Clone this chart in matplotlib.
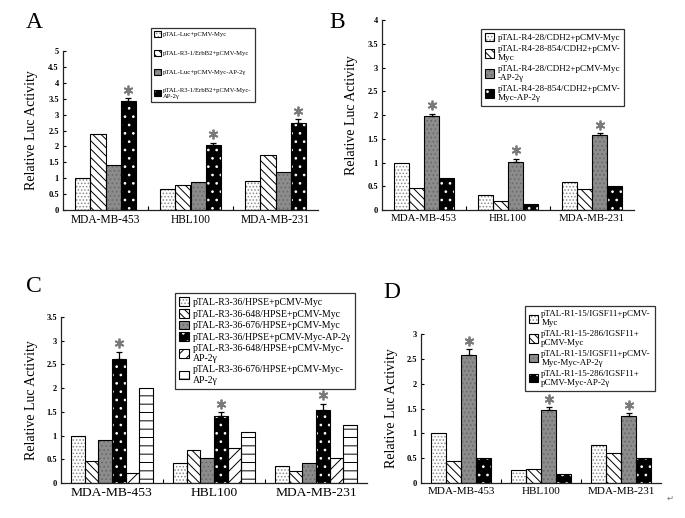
import matplotlib
matplotlib.use("Agg")
import matplotlib.pyplot as plt
import numpy as np
from matplotlib.patches import Patch
from matplotlib.legend_handler import HandlerTuple
from matplotlib.transforms import ScaledTranslation

plt.rcParams['font.family'] = ['Liberation Serif', 'DejaVu Serif']
plt.rcParams['hatch.linewidth'] = 0.7

categories = ["MDA-MB-453", "HBL100", "MDA-MB-231"]

# Panel A
a_labels = ["pTAL-Luc+pCMV-Myc", "pTAL-R3-1/ErbB2+pCMV-Myc",
            "pTAL-Luc+pCMV-Myc-AP-2γ", "pTAL-R3-1/ErbB2+pCMV-Myc-\nAP-2γ"]
a_values = [[1.00, 0.65, 0.90],
            [2.40, 0.80, 1.72],
            [1.40, 0.87, 1.20],
            [3.42, 2.05, 2.75]]
a_err = [[0, 0, 0], [0, 0, 0], [0, 0, 0], [0.10, 0.07, 0.10]]

# Panel B
b_labels = ["pTAL-R4-28/CDH2+pCMV-Myc", "pTAL-R4-28-854/CDH2+pCMV-\nMyc",
            "pTAL-R4-28/CDH2+pCMV-Myc\n-AP-2γ", "pTAL-R4-28-854/CDH2+pCMV-\nMyc-AP-2γ"]
b_values = [[1.00, 0.32, 0.60],
            [0.46, 0.20, 0.44],
            [1.98, 1.02, 1.58],
            [0.67, 0.12, 0.50]]
b_err = [[0, 0, 0], [0, 0, 0], [0.05, 0.06, 0.04], [0, 0, 0]]

# Panel C
c_labels = ["pTAL-R3-36/HPSE+pCMV-Myc", "pTAL-R3-36-648/HPSE+pCMV-Myc",
            "pTAL-R3-36-676/HPSE+pCMV-Myc", "pTAL-R3-36/HPSE+pCMV-Myc-AP-2γ",
            "pTAL-R3-36-648/HPSE+pCMV-Myc-\nAP-2γ", "pTAL-R3-36-676/HPSE+pCMV-Myc-\nAP-2γ"]
c_values = [[1.00, 0.42, 0.36],
            [0.46, 0.70, 0.25],
            [0.91, 0.53, 0.42],
            [2.62, 1.42, 1.54],
            [0.22, 0.73, 0.52],
            [2.01, 1.08, 1.22]]
c_err = [[0, 0, 0], [0, 0, 0], [0, 0, 0], [0.15, 0.08, 0.13], [0, 0, 0], [0, 0, 0]]

# Panel D
d_labels = ["pTAL-R1-15/IGSF11+pCMV-\nMyc", "pTAL-R1-15-286/IGSF11+\npCMV-Myc",
            "pTAL-R1-15/IGSF11+pCMV-\nMyc-Myc-AP-2γ", "pTAL-R1-15-286/IGSF11+\npCMV-Myc-AP-2γ"]
d_values = [[1.00, 0.26, 0.76],
            [0.45, 0.28, 0.60],
            [2.58, 1.46, 1.34],
            [0.50, 0.18, 0.50]]
d_err = [[0, 0, 0], [0, 0, 0], [0.12, 0.07, 0.07], [0, 0, 0]]

STYLES = {
    'dots':  dict(face='white', hatch='.....', hcol='#8a8a8a'),
    'diag':  dict(face='white', hatch='\\\\\\\\', hcol='black'),
    'gray':  dict(face='#8c8c8c', hatch='....', hcol='#6a6a6a'),
    'black': dict(face='black', hatch='..', hcol='white'),
    'slash': dict(face='white', hatch='///', hcol='black'),
    'hdash': dict(face='white', hatch='--', hcol='black'),
}

fig = plt.figure(figsize=(6.85, 5.18), dpi=100)


def panel(rect, letter, letter_xy, values, errs, labels, styles, ylim, ystep,
          width, leg_xy, leg_fs, leg_sp, cat_fs, ylab_x):
    ax = fig.add_axes(rect)
    n = len(values)
    x = np.arange(len(categories))
    handles = []
    for i in range(n):
        st = STYLES[styles[i]]
        pos = x + (i - (n - 1) / 2) * width
        ax.bar(pos, values[i], width, color=st['face'], hatch=st['hatch'],
               edgecolor=st['hcol'], linewidth=0, zorder=2)
        ax.bar(pos, values[i], width, fill=False, edgecolor='black',
               linewidth=0.8, zorder=3)
        for j in range(len(categories)):
            if errs[i][j] > 0:
                top = values[i][j] + errs[i][j]
                ax.errorbar(pos[j], values[i][j], yerr=[[0], [errs[i][j]]],
                            fmt='none', ecolor='black', elinewidth=0.9,
                            capsize=2.2, capthick=0.9, zorder=4)
                off = ScaledTranslation(0, 6 / 72, fig.dpi_scale_trans)
                ax.plot([pos[j]], [top], linestyle='none', marker=(6, 2, 0),
                        markersize=7, markeredgewidth=1.3, color='#7a7a7a',
                        transform=ax.transData + off, zorder=5, clip_on=False)
        h1 = Patch(facecolor=st['face'], hatch=st['hatch'], edgecolor=st['hcol'], linewidth=0)
        h2 = Patch(fill=False, edgecolor='black', linewidth=0.8)
        handles.append((h1, h2))
    ax.set_xlim(-0.5, len(categories) - 0.5)
    ax.set_ylim(*ylim)
    yt = np.arange(0, ylim[1] + 1e-9, ystep)
    ax.set_yticks(yt)
    ax.set_yticklabels([('%g' % v) for v in yt], fontsize=6, fontweight='bold')
    ax.set_xticks(x)
    ax.set_xticklabels(categories, fontsize=cat_fs)
    ax.set_xticks([0.5, 1.5], minor=True)
    ax.tick_params(axis='x', which='major', length=0, pad=3)
    ax.tick_params(axis='x', which='minor', direction='in', length=3, width=0.8)
    ax.tick_params(axis='y', direction='in', length=2.5, width=0.8, pad=3)
    for s in ['top', 'right']:
        ax.spines[s].set_visible(False)
    for s in ['left', 'bottom']:
        ax.spines[s].set_linewidth(0.9)
        ax.spines[s].set_color('#222222')
    fig.text(ylab_x, rect[1] + rect[3] * 0.5, "Relative Luc Activity", rotation=90,
             fontsize=10, ha='center', va='center')
    fig.text(letter_xy[0], letter_xy[1], letter, fontsize=17, ha='center', va='center')
    leg = fig.legend(handles, labels, loc='upper left', bbox_to_anchor=leg_xy,
                     bbox_transform=fig.transFigure, fontsize=leg_fs,
                     handler_map={tuple: HandlerTuple(ndivide=1, pad=0)},
                     frameon=True, fancybox=False, edgecolor='black',
                     borderpad=0.45, labelspacing=leg_sp, handlelength=1.0,
                     handleheight=1.0, handletextpad=0.35, borderaxespad=0)
    leg.get_frame().set_linewidth(0.9)
    return ax


W, H = 685.0, 518.0

def rect(l, r, y0, ytop):
    return [l / W, 1 - y0 / H, (r - l) / W, (y0 - ytop) / H]

panel(rect(63, 318, 210, 51), "A", (34 / W, 1 - 23 / H), a_values, a_err, a_labels,
      ['dots', 'diag', 'gray', 'black'], (0, 5), 0.5, 0.18,
      (151 / W, 1 - 28 / H), 4.8, 1.9, 8.3, 32 / W)
panel(rect(382, 634, 210, 20), "B", (337 / W, 1 - 22 / H), b_values, b_err, b_labels,
      ['dots', 'diag', 'gray', 'black'], (0, 4), 0.5, 0.18,
      (481 / W, 1 - 29 / H), 6.6, 0.3, 7.8, 352 / W)
panel(rect(61, 367, 483, 317), "C", (34 / W, 1 - 287 / H), c_values, c_err, c_labels,
      ['dots', 'diag', 'gray', 'black', 'slash', 'hdash'], (0, 3.5), 0.5, 0.134,
      (175 / W, 1 - 293 / H), 7.0, 0.2, 9.7, 32 / W)
panel(rect(421, 661, 483, 334), "D", (392 / W, 1 - 293 / H), d_values, d_err, d_labels,
      ['dots', 'diag', 'gray', 'black'], (0, 3), 0.5, 0.19,
      (525 / W, 1 - 306 / H), 6.5, 0.3, 8.0, 392 / W)

fig.text(670 / W, 1 - 498 / H, "↵", fontsize=6, color='#777777', family='DejaVu Sans',
         ha='center', va='center')

fig.savefig("out.png", dpi=100)
